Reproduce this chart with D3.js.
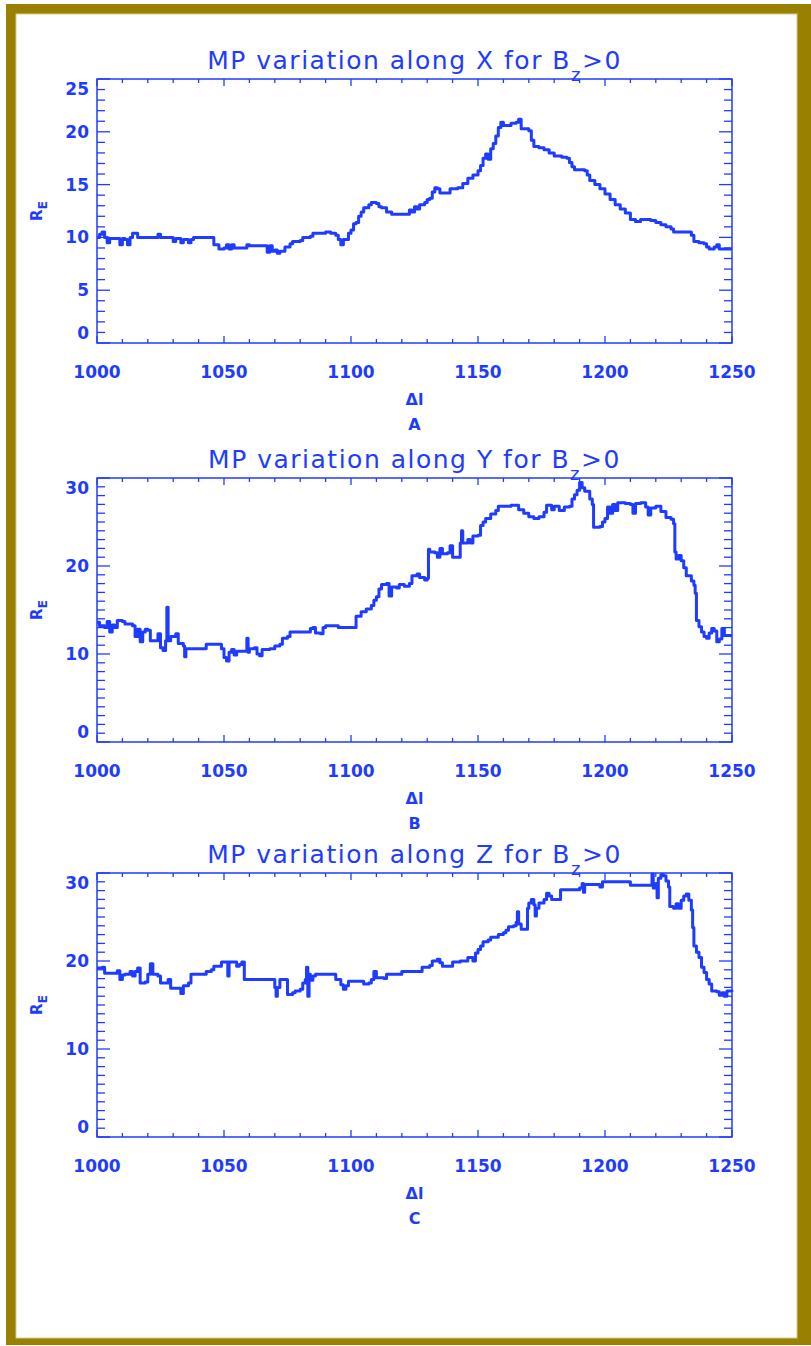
<!DOCTYPE html>
<html>
<head>
<meta charset="utf-8">
<script src="https://cdn.jsdelivr.net/npm/d3@7"></script>
<style>
  html, body { margin: 0; padding: 0; background: #ffffff; }
  svg { display: block; }
  text { font-family: "DejaVu Sans", sans-serif; fill: #1e3cff; }
</style>
</head>
<body>
<svg id="fig" width="811" height="1346"></svg>
<script>
// ---- Data ---------------------------------------------------------------
// Magnetopause position (R_E) against Δl, one trace per GSM axis, Bz > 0.

const dlX = [1000,1001,1002,1003,1004,1005,1008,1009,1010,1011,1012,1013,1014,1015,1016,1023,1024,1025,1029,1030,
  1031,1033,1034,1036,1037,1038,1043,1046,1048,1050,1051,1052,1053,1054,1058,1059,1060,1066,1067,1068,
  1069,1070,1071,1072,1074,1076,1077,1080,1081,1084,1085,1089,1090,1092,1094,1095,1096,1097,1099,1100,
  1101,1102,1103,1104,1105,1107,1108,1110,1111,1112,1114,1116,1122,1123,1124,1125,1126,1127,1129,1130,
  1131,1132,1133,1134,1135,1138,1139,1142,1144,1146,1148,1150,1151,1152,1153,1154,1155,1156,1157,1158,
  1159,1160,1163,1165,1166,1167,1170,1171,1172,1174,1176,1178,1180,1183,1185,1186,1187,1188,1192,1193,
  1194,1196,1198,1200,1202,1204,1206,1208,1210,1212,1214,1218,1220,1222,1224,1226,1227,1233,1234,1235,
  1237,1239,1240,1241,1243,1244,1245,1250];
const rX = [10.0,10.3,10.5,10.0,9.5,9.9,9.9,9.3,9.9,9.8,9.3,10.0,10.4,10.4,10.0,10.0,10.3,10.0,10.0,9.6,
  9.9,9.5,9.8,9.5,9.8,10.0,10.0,9.3,8.9,9.0,9.3,8.9,9.3,9.0,9.0,9.3,9.2,9.2,8.6,9.2,
  8.7,8.8,8.5,8.7,9.1,9.4,9.6,9.7,10.0,10.1,10.4,10.4,10.5,10.4,10.2,9.8,9.3,9.8,10.4,10.7,
  11.3,11.4,12.0,12.4,12.8,13.1,13.3,13.2,12.9,12.8,12.4,12.2,12.2,12.6,12.4,12.9,12.7,13.1,13.3,13.6,
  13.7,14.3,14.7,14.6,14.2,14.2,14.6,14.7,15.1,15.6,15.9,16.3,16.8,17.5,17.9,17.4,18.4,18.9,19.6,20.4,
  20.9,20.6,20.8,20.9,21.2,20.3,20.1,19.2,18.6,18.5,18.3,18.0,17.7,17.6,17.5,17.1,16.7,16.4,16.3,15.9,
  15.4,15.0,14.6,14.1,13.6,13.1,12.7,12.3,11.7,11.5,11.7,11.6,11.4,11.2,11.0,10.8,10.5,10.5,10.2,9.6,
  9.5,9.4,9.1,8.9,9.1,9.3,8.9,8.9];

const dlY = [1000,1001,1003,1004,1005,1006,1007,1008,1010,1011,1014,1015,1016,1017,1018,1019,1020,1021,1023,1024,
  1025,1026,1027,1027.5,1028,1029,1031,1032,1034,1034.5,1035,1042,1043,1048,1049,1050,1051,1052,1053,1054,
  1055,1058,1059,1059.5,1060,1062,1063,1064,1065,1068,1070,1072,1073,1075,1076,1083,1084,1085,1086,1088,
  1089,1090,1094,1095,1101,1102,1104,1106,1108,1109,1110,1111,1112,1114,1115,1116,1118,1119,1121,1123,
  1124,1126,1127,1129,1130,1130.5,1131,1133,1134,1135,1136,1138,1139,1140,1142,1143,1143.5,1144,1146,1147,
  1148,1150,1151,1152,1153,1155,1157,1158,1163,1165,1166,1168,1170,1172,1174,1176,1177,1179,1180,1182,
  1184,1186,1187,1188,1189,1190,1191,1192,1194,1195,1195.5,1198,1199,1200,1201,1202,1203,1204,1205,1208,
  1210,1211,1212,1214,1216,1217,1218,1220,1222,1224,1226,1227,1227.5,1228,1229,1230,1231,1232,1234,1235,
  1235.5,1236,1237,1238,1239,1240,1241,1242,1243,1244,1245,1246,1247,1250];
const rY = [13.6,13.2,13.0,13.7,12.5,13.3,13.0,13.8,13.7,13.4,13.2,12.0,12.8,11.4,12.5,12.8,12.7,11.5,11.5,12.3,
  10.7,10.4,11.5,15.3,11.5,12.0,12.3,11.2,10.9,9.7,10.6,10.6,11.1,11.1,10.6,9.6,9.2,10.2,10.5,9.9,
  10.3,10.3,11.8,10.2,10.6,10.7,10.0,9.8,10.5,10.6,10.9,11.1,11.8,12.0,12.5,12.5,12.9,13.0,12.4,12.3,
  13.0,13.2,13.2,13.0,13.0,14.3,14.8,15.1,15.5,16.1,16.5,17.4,17.9,18.0,16.6,17.6,17.5,17.9,17.7,18.0,
  18.9,19.1,18.7,18.4,18.6,21.9,21.6,21.5,21.0,22.0,21.4,21.5,22.3,21.0,21.0,22.6,24.0,22.6,23.0,22.6,
  23.4,23.5,24.6,25.0,25.4,25.9,26.3,26.8,26.9,26.9,26.4,26.0,25.6,25.4,25.6,26.1,26.9,26.4,26.8,26.3,
  26.7,26.8,27.6,28.1,28.6,29.5,28.9,28.5,27.6,27.0,24.4,24.5,25.0,25.4,26.7,26.0,27.0,26.3,27.2,27.1,
  27.0,26.0,27.1,27.2,26.7,25.8,26.6,26.8,26.2,25.5,25.3,24.8,21.6,20.8,21.2,20.6,19.8,18.9,18.3,17.8,
  16.9,13.8,13.1,12.5,12.0,11.8,12.4,12.9,12.6,11.4,11.7,12.9,12.1,12.1];

const dlZ = [1000,1002,1003,1007,1008,1009,1010,1011,1013,1014,1015,1016,1017,1019,1020,1021,1022,1024,1025,1028,
  1029,1032,1033,1034,1036,1037,1042,1043,1045,1046,1048,1049,1051,1051.5,1052,1054,1055,1056,1057,1058,
  1069,1070,1070.5,1071,1072,1074,1075,1077,1078,1080,1081,1082,1082.5,1083,1083.5,1084,1085,1086,1093,1094,
  1096,1097,1098,1099,1104,1105,1107,1108,1109,1110,1113,1114,1119,1120,1127,1128,1131,1132,1134,1135,
  1136,1139,1140,1143,1145,1146,1148,1149,1150,1151,1152,1154,1155,1157,1158,1160,1161,1162,1164,1165,
  1165.5,1166,1167,1169,1169.5,1170,1171,1172,1172.5,1173,1174,1176,1177,1178,1179,1182,1182.5,1189,1190,1191,
  1191.5,1192,1197,1198,1199,1209,1210,1218,1218.5,1219,1220,1220.5,1221,1222,1223,1224,1225,1225.5,1227,1228,
  1229,1230,1231,1232,1233,1234,1234.5,1235,1236,1237,1238,1239,1240,1241,1242,1244,1245,1246,1247,1248,
  1250];
const rZ = [19.2,19.3,18.6,18.6,18.9,17.9,18.4,18.5,18.8,18.3,18.8,19.2,17.5,17.6,18.5,19.7,18.5,18.3,17.5,17.9,
  16.9,16.9,16.3,17.2,17.5,18.5,18.5,18.8,19.0,19.4,19.4,19.9,19.9,18.3,19.9,19.9,19.4,19.6,19.9,17.9,
  17.9,17.0,16.0,17.0,17.9,17.9,16.2,16.4,16.6,16.8,17.5,17.9,19.3,16.0,18.5,17.8,18.3,18.5,18.5,17.9,
  17.3,16.8,17.2,17.7,17.7,17.4,17.5,17.9,18.8,18.1,18.0,18.5,18.5,18.8,18.8,19.3,19.5,20.0,20.2,19.8,
  19.4,19.4,19.9,20.0,20.0,20.4,20.0,20.9,21.3,21.7,22.2,22.4,22.7,22.7,23.0,23.2,23.5,23.9,24.0,24.4,
  25.6,24.2,23.6,23.6,26.0,26.6,27.0,26.4,25.1,26.0,26.6,27.0,27.7,27.4,27.0,27.0,28.1,28.1,28.3,28.8,
  27.8,28.7,28.7,28.4,29.0,29.0,28.6,28.6,29.9,28.3,28.8,27.2,29.4,29.8,29.7,29.1,28.4,26.2,26.0,26.5,
  26.0,26.9,27.4,27.6,26.9,25.8,23.8,21.7,21.0,20.4,19.3,18.7,17.9,17.4,16.6,16.5,16.1,16.4,16.0,16.6,
  16.5];

// Axis ticks and labels
const xDomain = [1000, 1250];
const xMajorTicks = [1000, 1050, 1100, 1150, 1200, 1250];
const xMinorStep = 10;
const yTicksX = [0, 5, 10, 15, 20, 25];
const yTicksYZ = [0, 10, 20, 30];
const yMinorStep = 1;

const axisNames = ["X", "Y", "Z"];
const panelLetters = ["A", "B", "C"];

// ---- Layout -------------------------------------------------------------
const BLUE = "#1e3cff";
const svg = d3.select("#fig");

// gold picture frame: gold slab with a white card laid on top
svg.append("rect").attr("x", 0).attr("y", 0).attr("width", 811).attr("height", 1346).attr("fill", "#ffffff");
svg.append("rect").attr("x", 6).attr("y", 4).attr("width", 805).attr("height", 1341).attr("fill", "#9a8000");
svg.append("rect").attr("x", 16).attr("y", 14).attr("width", 781).attr("height", 1324)
  .attr("fill", "#ffffff").attr("stroke", "#d9cc92").attr("stroke-width", 1);

const frameLeft = 97, frameRight = 732, panelH = 264;
const panelTops = [79, 478, 873];

const panels = [
  { dl: dlX, r: rX, yTicks: yTicksX },
  { dl: dlY, r: rY, yTicks: yTicksYZ },
  { dl: dlZ, r: rZ, yTicks: yTicksYZ }
];

panels.forEach((p, i) => {
  const top = panelTops[i], bottom = top + panelH;
  const g = svg.append("g");
  const x = d3.scaleLinear().domain(xDomain).range([frameLeft, frameRight]);
  const yMax = p.yTicks[p.yTicks.length - 1];
  const y = d3.scaleLinear().domain([0, yMax]).range([bottom, top]);

  // minor / major ticks on all four sides, pointing inward
  const xMinor = d3.range(xDomain[0], xDomain[1] + 0.001, xMinorStep);
  const yMinor = d3.range(0, yMax + 0.001, yMinorStep);
  const tickG = g.append("g").attr("stroke", BLUE).attr("stroke-width", 1.3);
  xMinor.forEach(v => {
    const major = xMajorTicks.includes(v);
    const len = major ? 7 : 4;
    tickG.append("line").attr("x1", x(v)).attr("x2", x(v)).attr("y1", bottom).attr("y2", bottom - len);
    tickG.append("line").attr("x1", x(v)).attr("x2", x(v)).attr("y1", top).attr("y2", top + len);
  });
  yMinor.forEach(v => {
    const major = p.yTicks.includes(v);
    const len = major ? 13 : 8;
    tickG.append("line").attr("x1", frameLeft).attr("x2", frameLeft + len).attr("y1", y(v)).attr("y2", y(v));
    tickG.append("line").attr("x1", frameRight).attr("x2", frameRight - len).attr("y1", y(v)).attr("y2", y(v));
  });

  // plot frame
  g.append("rect")
    .attr("x", frameLeft).attr("y", top).attr("width", frameRight - frameLeft).attr("height", panelH)
    .attr("fill", "none").attr("stroke", BLUE).attr("stroke-width", 1.5);

  // data trace, drawn as a staircase like the sampled record
  const line = d3.line()
    .x((d, k) => x(p.dl[k]))
    .y((d, k) => y(p.r[k]))
    .curve(d3.curveStepAfter);
  g.append("path")
    .datum(p.r)
    .attr("d", line)
    .attr("fill", "none").attr("stroke", BLUE).attr("stroke-width", 3)
    .attr("stroke-linejoin", "round");

  // x tick labels
  g.selectAll(".xl").data(xMajorTicks).enter().append("text")
    .attr("x", d => x(d)).attr("y", bottom + 35)
    .attr("text-anchor", "middle")
    .attr("font-size", 17).attr("font-weight", "bold")
    .text(d => d);

  // y tick labels (end labels kept inside the frame height)
  g.selectAll(".yl").data(p.yTicks).enter().append("text")
    .attr("x", frameLeft - 8)
    .attr("y", d => Math.min(bottom - 10, Math.max(top + 10, y(d))) + 6)
    .attr("text-anchor", "end")
    .attr("font-size", 17).attr("font-weight", "bold")
    .text(d => d);

  // axis titles
  g.append("text")
    .attr("x", (frameLeft + frameRight) / 2).attr("y", bottom + 62)
    .attr("text-anchor", "middle").attr("font-size", 16).attr("font-weight", "bold")
    .text("Δl");
  g.append("text")
    .attr("x", (frameLeft + frameRight) / 2).attr("y", bottom + 87)
    .attr("text-anchor", "middle").attr("font-size", 16).attr("font-weight", "bold")
    .text(panelLetters[i]);

  const yt = g.append("text")
    .attr("transform", `translate(42,${(top + bottom) / 2}) rotate(-90)`)
    .attr("text-anchor", "middle").attr("font-size", 15).attr("font-weight", "bold");
  yt.append("tspan").text("R");
  yt.append("tspan").attr("dy", 5).attr("font-size", 12).text("E");

  // panel title
  const t = g.append("text")
    .attr("x", (frameLeft + frameRight) / 2).attr("y", top - 10)
    .attr("text-anchor", "middle").attr("font-size", 25).attr("letter-spacing", 1.5);
  t.append("tspan").text(`MP variation along ${axisNames[i]} for B`);
  t.append("tspan").attr("dy", 12).attr("font-size", 18).text("z");
  t.append("tspan").attr("dy", -12).text(">0");
});
</script>
</body>
</html>
